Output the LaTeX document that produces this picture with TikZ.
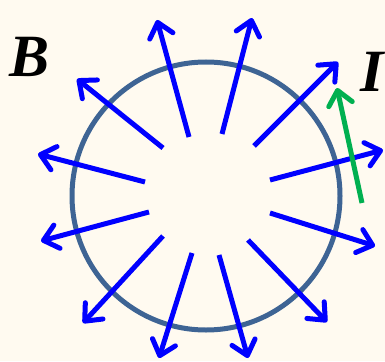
\documentclass[tikz,border=0pt]{standalone}
\usepackage{fontspec}
\setmainfont{Liberation Serif}
\usetikzlibrary{arrows.meta}
\definecolor{paper}{RGB}{255,250,240}
\definecolor{ringblue}{RGB}{62,100,148}
\definecolor{fieldblue}{RGB}{0,0,255}
\definecolor{currgreen}{RGB}{0,176,80}

\begin{document}
\begin{tikzpicture}[
  x=1pt, y=-1pt,
  line width=5pt,
  ring/.style={draw=ringblue, circle, minimum size=268pt, inner sep=0pt},
  field/.style={draw=fieldblue, -{Straight Barb[length=14pt, width=24pt, round]}},
  current/.style={draw=currgreen, -{Straight Barb[length=14pt, width=24pt, round]}},
  sym/.style={font=\fontsize{60}{60}\selectfont\bfseries\itshape, inner sep=0pt}
]
% Background and fixed frame.
\fill[paper] (0,0) rectangle (385,361);
\useasboundingbox (0,0) rectangle (385,361);

% The loop.
\node[ring] (loop) at (206,196) {};

% Field lines: tail / head pairs, going round clockwise from the top.
\foreach \i/\tx/\ty/\hx/\hy in {
  1/189/137/157/20,   2/222/134/252/18,   3/254/146/338/62,
  4/270/180/383/150,  5/270/213/375/246,  6/248/240/327/322,
  7/219/255/248/358,  8/192/253/159/358,  9/163/236/83/323,
  10/149/212/41/241,  11/145/182/38/154,  12/163/148/77/79} {
  \coordinate (t\i) at (\tx,\ty);
  \coordinate (h\i) at (\hx,\hy);
  \draw[field] (t\i) -- (h\i);
}

% Current arrow next to the loop.
\coordinate (itail) at (362,203);
\coordinate (ihead) at (337,88);
\draw[current] (itail) -- (ihead);

% Labels.
\node[sym] (bsym) at (30,57) {B};
\node[sym] (isym) at (372,72) {I};
\end{tikzpicture}
\end{document}
